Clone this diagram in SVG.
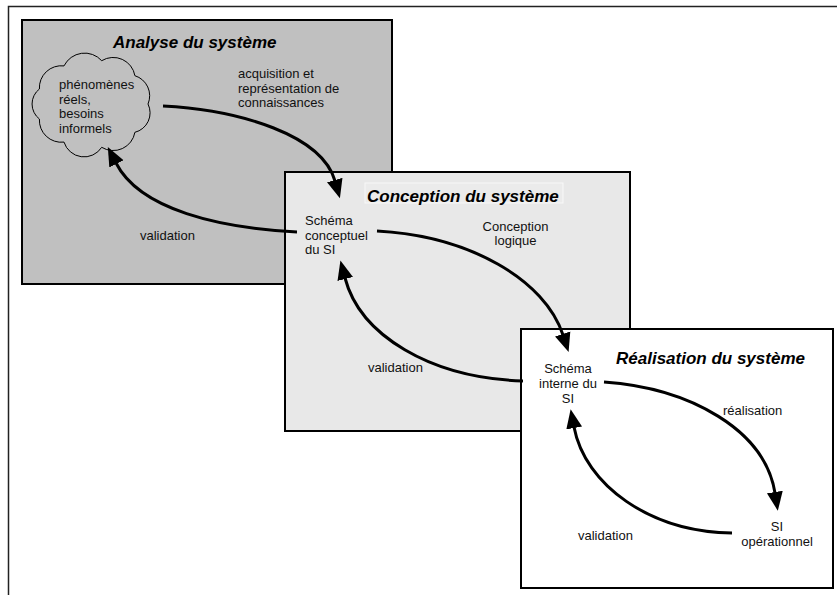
<svg xmlns="http://www.w3.org/2000/svg" width="837" height="595" viewBox="0 0 837 595">
<style>
.box{stroke:#000;stroke-width:2}
.t{font-family:"Liberation Sans",Arial,sans-serif;font-size:13px;fill:#111}
.title{font-family:"Liberation Sans",Arial,sans-serif;font-size:17px;font-weight:bold;font-style:italic;fill:#000}
.c{text-anchor:middle}
.conn path{fill:none;stroke:#000;stroke-width:3;marker-end:url(#ah)}
</style>
<defs>
<marker id="ah" markerUnits="userSpaceOnUse" markerWidth="22" markerHeight="18" viewBox="0 -9 22 18" refX="1" refY="0" orient="auto">
<path d="M0,-8 L19,0 L0,8 Z" fill="#000"/>
</marker>
</defs>
<rect width="837" height="595" fill="#fff"/>
<path d="M8.5,595 V6.5 H837" fill="none" stroke="#222" stroke-width="1.5"/>

<g id="analyse">
<rect class="box" x="22" y="20" width="370" height="264" fill="#c0c0c0"/>
<text class="title" x="113" y="48">Analyse du système</text>
</g>

<g id="phenomenes">
<path d="M101.7,60.7 A22,22 0 0 1 134.9,75.7 A21,21 0 0 1 148,104 A20,20 0 0 1 134.9,132.3 A22,22 0 0 1 101.7,147.3 A21,21 0 0 1 64,142.1 A22,22 0 0 1 39.4,119 A19,19 0 0 1 39.4,89 A22,22 0 0 1 64,65.9 A23,23 0 0 1 101.7,60.7 Z" fill="#c0c0c0" stroke="#000" stroke-width="1"/>
<text class="t" x="59" y="89">phénomènes</text>
<text class="t" x="59" y="103.5">réels,</text>
<text class="t" x="59" y="118">besoins</text>
<text class="t" x="59" y="132.5">informels</text>
</g>

<g id="conception">
<rect class="box" x="285" y="172" width="345" height="259" fill="#e8e8e8"/>
<rect x="365" y="183" width="198" height="20" fill="#ebebeb" stroke="#f8f8f8" stroke-width="1"/>
<text class="title" x="367" y="201.5">Conception du système</text>
</g>

<g id="realisation">
<rect class="box" x="521" y="329" width="312" height="259" fill="#fff"/>
<text class="title" x="616" y="363.5">Réalisation du système</text>
</g>

<g id="schema-conceptuel">
<text class="t" x="305" y="225">Schéma</text>
<text class="t" x="305" y="239.5">conceptuel</text>
<text class="t" x="305" y="254">du SI</text>
</g>

<g id="schema-interne">
<text class="t c" x="568" y="373">Schéma</text>
<text class="t c" x="568" y="388">interne du</text>
<text class="t c" x="568" y="402.5">SI</text>
</g>

<g id="si-operationnel">
<text class="t c" x="777" y="531">SI</text>
<text class="t c" x="777" y="545.5">opérationnel</text>
</g>

<g id="connectors" class="conn">
<path d="M163,106 C240,110 322,135 335,181"/>
<path d="M297,232 C220,228 140,210 116,163"/>
<path d="M377,231 C470,236 545,280 563,335"/>
<path d="M523,381 C430,378 360,335 345,278"/>
<path d="M604,382 C690,388 765,430 775,493"/>
<path d="M732,533 C650,532 585,485 574,427"/>
</g>

<g id="labels">
<text class="t" x="238" y="78">acquisition et</text>
<text class="t" x="238" y="92.5">représentation de</text>
<text class="t" x="238" y="107">connaissances</text>
<text class="t" x="140" y="240">validation</text>
<text class="t c" x="515.5" y="230.5">Conception</text>
<text class="t c" x="515.5" y="245">logique</text>
<text class="t" x="368" y="371.5">validation</text>
<text class="t" x="723" y="414.5">réalisation</text>
<text class="t" x="578" y="539.5">validation</text>
</g>
</svg>
